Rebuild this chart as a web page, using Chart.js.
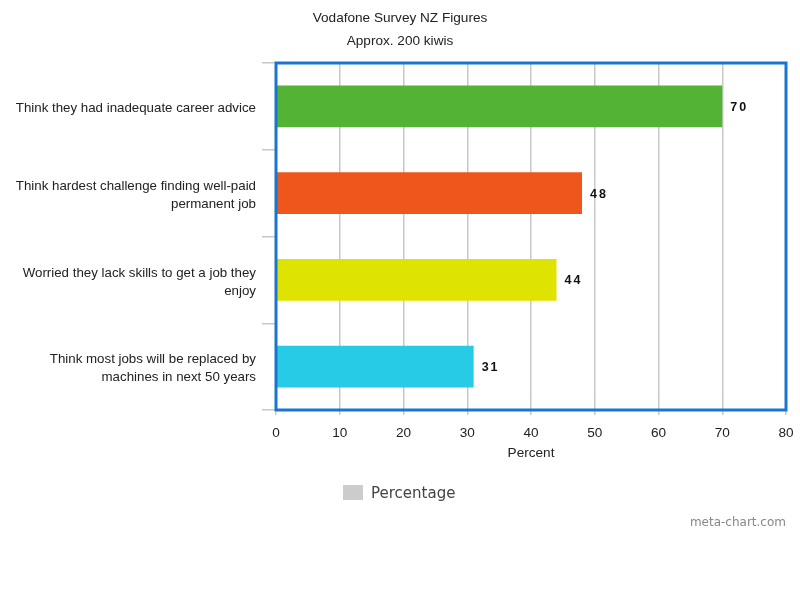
<!DOCTYPE html>
<html>
<head>
<meta charset="utf-8">
<script src="https://cdn.jsdelivr.net/npm/chart.js@4/dist/chart.umd.min.js"></script>
<style>
html,body{margin:0;padding:0;background:#fff;}
#wrap{width:800px;height:600px;position:relative;}
</style>
</head>
<body>
<div id="wrap"><canvas id="c" width="800" height="600"></canvas></div>
<script>
const titleLines = ["Vodafone Survey NZ Figures", "Approx. 200 kiwis"];
const categories = [
  "Think they had inadequate career advice",
  ["Think hardest challenge finding well-paid", "permanent job"],
  ["Worried they lack skills to get a job they", "enjoy"],
  ["Think most jobs will be replaced by", "machines in next 50 years"]
];
const values = [70, 48, 44, 31];
const barColors = ["#52b335", "#ee561c", "#dfe300", "#27cbe5"];
const seriesName = "Percentage";
const xAxisTitle = "Percent";
const xTicks = [0, 10, 20, 30, 40, 50, 60, 70, 80];
const credit = "meta-chart.com";

const FONT = "'Liberation Sans', Arial, sans-serif";

const extras = {
  id: 'extras',
  afterDraw(chart) {
    const ctx = chart.ctx;
    const a = chart.chartArea;
    ctx.save();
    // border
    ctx.strokeStyle = '#1a75cf';
    ctx.lineWidth = 3;
    ctx.strokeRect(a.left, a.top, a.right - a.left, a.bottom - a.top);
    // value labels
    const meta = chart.getDatasetMeta(0);
    ctx.fillStyle = '#111';
    ctx.font = "bold 12.5px " + FONT;
    ctx.textBaseline = 'middle';
    ctx.textAlign = 'left';
    if ('letterSpacing' in ctx) ctx.letterSpacing = '2px';
    meta.data.forEach((bar, i) => {
      ctx.fillText(String(values[i]), bar.x + 8, bar.y + 1);
    });
    if ('letterSpacing' in ctx) ctx.letterSpacing = '0px';
    // title
    ctx.fillStyle = '#222';
    ctx.font = "13.6px " + FONT;
    ctx.textAlign = 'center';
    ctx.fillText(titleLines[0], 400, 18);
    ctx.fillText(titleLines[1], 400, 41);
    // legend
    ctx.fillStyle = '#cccccc';
    ctx.fillRect(343, 485, 20, 15);
    ctx.fillStyle = '#444';
    ctx.font = "15px 'DejaVu Sans', sans-serif";
    ctx.textAlign = 'left';
    ctx.fillText(seriesName, 371, 494);
    // credit
    ctx.fillStyle = '#888';
    ctx.font = "12px 'DejaVu Sans', sans-serif";
    ctx.textAlign = 'right';
    ctx.fillText(credit, 786, 523);
    ctx.restore();
  }
};

new Chart(document.getElementById('c'), {
  type: 'bar',
  data: {
    labels: categories,
    datasets: [{
      label: seriesName,
      data: values,
      backgroundColor: barColors,
      barPercentage: 0.48,
      categoryPercentage: 1.0
    }]
  },
  options: {
    indexAxis: 'y',
    responsive: false,
    animation: false,
    devicePixelRatio: 1,
    layout: { padding: { top: 63, bottom: 135, right: 14, left: 0 } },
    plugins: {
      legend: { display: false },
      title: { display: false },
      tooltip: { enabled: false }
    },
    scales: {
      x: {
        type: 'linear',
        min: 0,
        max: 80,
        afterBuildTicks(scale) { scale.ticks = xTicks.map(v => ({ value: v })); },
        afterFit(scale) { scale.height = 55; scale.paddingLeft = 0; scale.paddingRight = 0; },
        grid: { color: '#c8c8c8', lineWidth: 1.5, tickLength: 5 },
        border: { display: false },
        ticks: { color: '#222', font: { family: FONT, size: 13.6 }, padding: 10 },
        title: { display: true, text: xAxisTitle, color: '#222', font: { family: FONT, size: 13.6 }, padding: { top: 4 } }
      },
      y: {
        afterFit(scale) { scale.width = 276; },
        grid: { offset: true, drawOnChartArea: false, color: '#c8c8c8', lineWidth: 1.5, tickLength: 14 },
        border: { display: false },
        ticks: { color: '#222', font: { family: FONT, size: 13.3, lineHeight: 1.35 }, padding: 6, labelOffset: 2, autoSkip: false }
      }
    }
  },
  plugins: [extras]
});
</script>
</body>
</html>
